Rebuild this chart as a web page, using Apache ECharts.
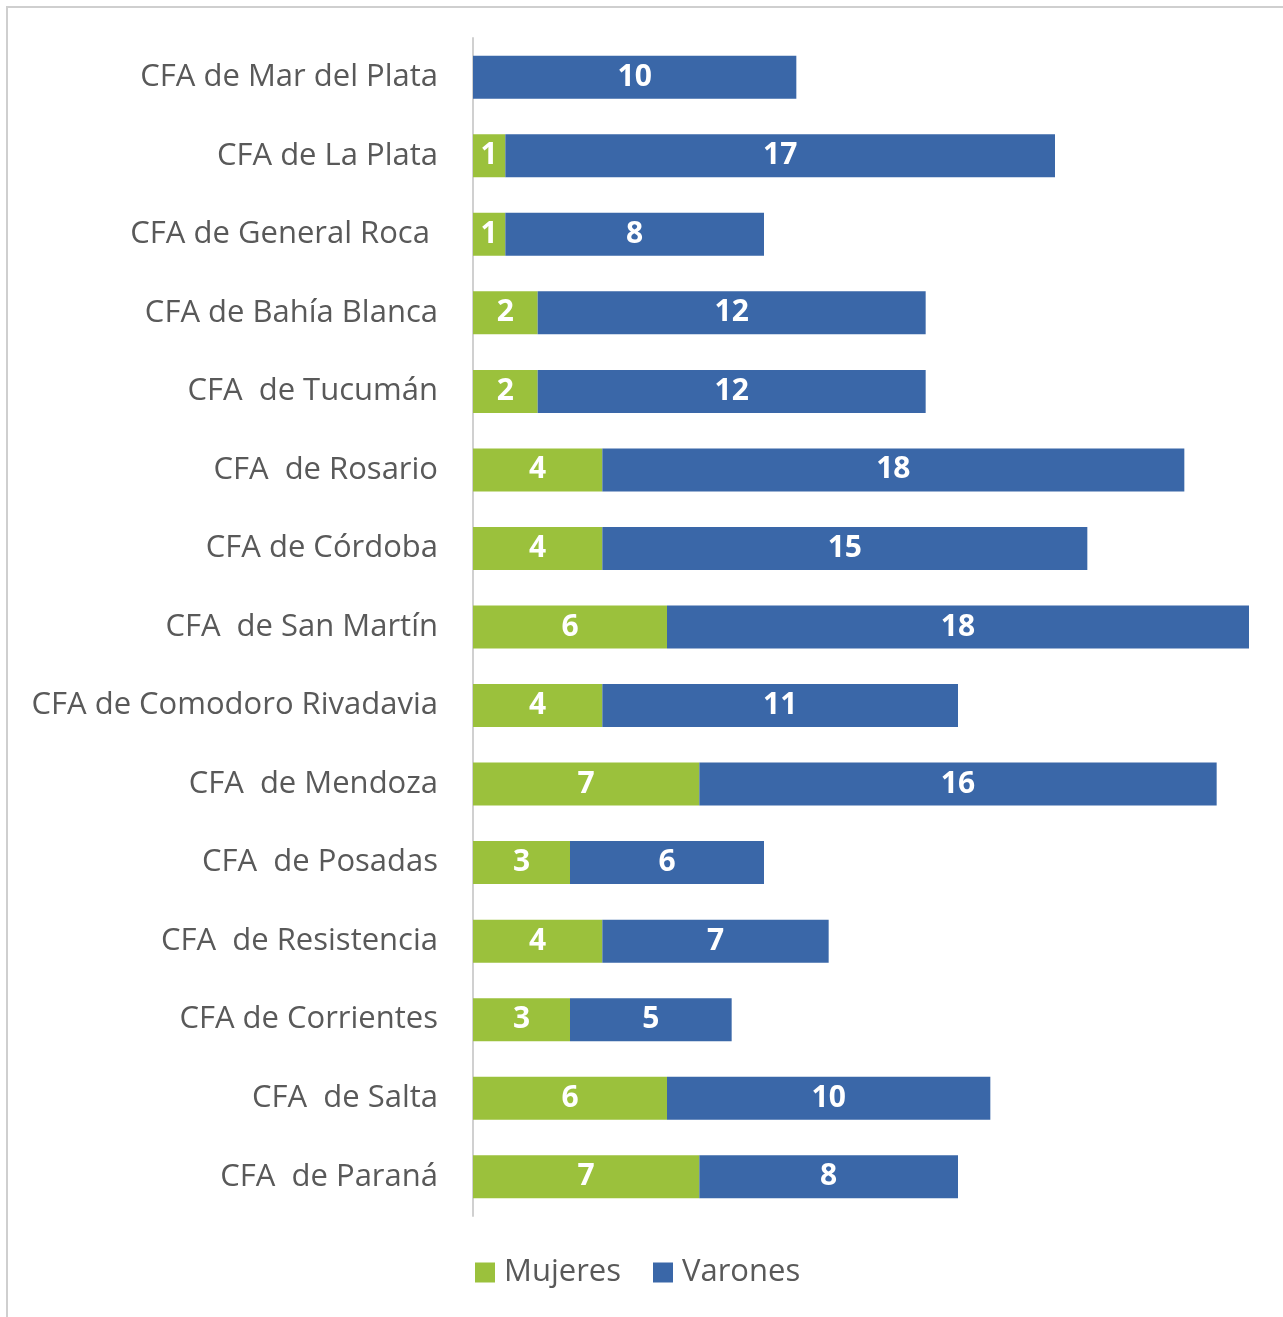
<!DOCTYPE html>
<html>
<head>
<meta charset="utf-8">
<script src="https://cdn.jsdelivr.net/npm/echarts@6/dist/echarts.min.js"></script>
<style>
  html, body { margin: 0; padding: 0; background: #fff; }
  #frame { position: absolute; left: 6px; top: 6px; width: 1277px; height: 1311px;
           border-top: 2px solid #cfcfcf; border-left: 2px solid #cfcfcf; box-sizing: border-box; }
  #main { position: absolute; left: 0; top: 0; width: 1283px; height: 1317px; }
</style>
</head>
<body>
<div id="frame"></div>
<div id="main"></div>
<script>
// categorias de arriba hacia abajo
const centros = [
  'CFA de Mar del Plata',
  'CFA de La Plata',
  'CFA de General Roca ',
  'CFA de Bahía Blanca',
  'CFA  de Tucumán',
  'CFA  de Rosario',
  'CFA de Córdoba',
  'CFA  de San Martín',
  'CFA de Comodoro Rivadavia',
  'CFA  de Mendoza',
  'CFA  de Posadas',
  'CFA  de Resistencia',
  'CFA de Corrientes',
  'CFA  de Salta',
  'CFA  de Paraná'
];
const mujeres = [0, 1, 1, 2, 2, 4, 4, 6, 4, 7, 3, 4, 3, 6, 7];
const varones = [10, 17, 8, 12, 12, 18, 15, 18, 11, 16, 6, 7, 5, 10, 8];

const chart = echarts.init(document.getElementById('main'));

const barLabel = {
  show: true,
  position: 'inside',
  color: '#fff',
  fontWeight: 'bold',
  fontSize: 30,
  fontFamily: 'Open Sans',
  formatter: p => (p.value ? p.value : '')
};

chart.setOption({
  animation: false,
  textStyle: { fontFamily: 'Open Sans' },
  grid: { left: 473, right: 34, top: 38, bottom: 101, containLabel: false },
  legend: {
    left: 470,
    top: 1252,
    itemWidth: 20,
    itemHeight: 20,
    itemGap: 32,
    icon: 'rect',
    textStyle: { fontSize: 31, color: '#595959', fontFamily: 'Open Sans', padding: [0, 0, 0, 4] },
    data: ['Mujeres', 'Varones']
  },
  xAxis: {
    type: 'value',
    min: 0,
    max: 24,
    show: false
  },
  yAxis: {
    type: 'category',
    inverse: true,
    data: centros,
    axisLine: { show: true, lineStyle: { color: '#d0d0d0', width: 2 } },
    axisTick: { show: false },
    axisLabel: { fontSize: 31, color: '#595959', margin: 35, fontFamily: 'Open Sans' }
  },
  series: [
    {
      name: 'Mujeres',
      type: 'bar',
      stack: 'total',
      barWidth: 43,
      itemStyle: { color: '#9bc13c' },
      label: barLabel,
      data: mujeres
    },
    {
      name: 'Varones',
      type: 'bar',
      stack: 'total',
      barWidth: 43,
      itemStyle: { color: '#3a67a8' },
      label: barLabel,
      data: varones
    }
  ]
});
</script>
</body>
</html>
